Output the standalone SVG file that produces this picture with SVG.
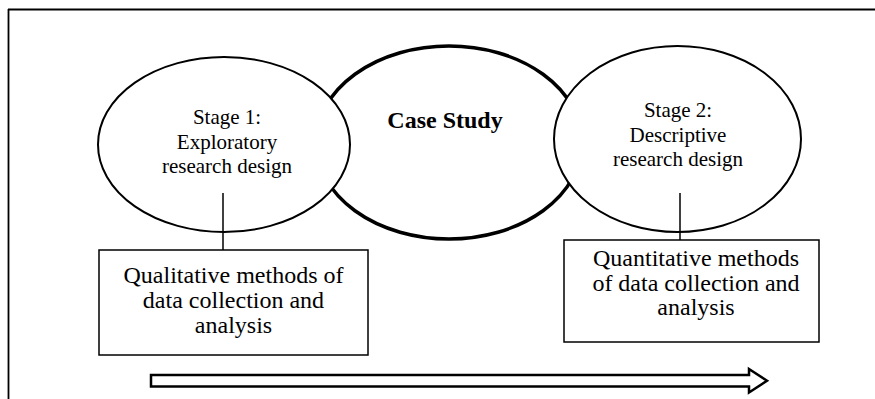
<svg xmlns="http://www.w3.org/2000/svg" width="875" height="399" viewBox="0 0 875 399">
<style>
.t{font-family:"Liberation Serif","Times New Roman",serif;fill:#000;text-anchor:middle}
.s{font-size:21px}
.b{font-size:24px}
.c{font-size:24px;font-weight:bold}
.el{fill:#fff;stroke:#000;stroke-width:2}
.box{fill:#fff;stroke:#000;stroke-width:1.5}
.ln{stroke:#000;stroke-width:1.5;fill:none}
</style>
<rect width="875" height="399" fill="#fff"/>
<g id="frame">
<path d="M8,9.5 H875 M8.5,9 V399" stroke="#000" stroke-width="1.8" fill="none"/>
</g>
<g id="case-study">
<ellipse cx="449" cy="142.5" rx="133" ry="96.5" fill="#fff" stroke="#000" stroke-width="3.5"/>
<text class="t c" x="445" y="128">Case Study</text>
</g>
<g id="stage1">
<ellipse class="el" cx="224" cy="144.5" rx="126" ry="87.5"/>
<text class="t s" x="227" y="124">Stage 1:</text>
<text class="t s" x="227" y="149">Exploratory</text>
<text class="t s" x="227" y="173">research design</text>
</g>
<g id="stage2">
<ellipse class="el" cx="677.5" cy="139" rx="123.5" ry="93"/>
<text class="t s" x="678" y="117">Stage 2:</text>
<text class="t s" x="678" y="142">Descriptive</text>
<text class="t s" x="678" y="166">research design</text>
</g>
<g id="qualitative">
<rect class="box" x="99" y="250" width="269" height="105"/>
<text class="t b" x="233.5" y="283">Qualitative methods of</text>
<text class="t b" x="233.5" y="308">data collection and</text>
<text class="t b" x="233.5" y="333">analysis</text>
</g>
<g id="quantitative">
<rect class="box" x="564" y="240" width="255" height="102"/>
<text class="t b" x="696" y="266">Quantitative methods</text>
<text class="t b" x="696" y="291">of data collection and</text>
<text class="t b" x="696" y="315">analysis</text>
</g>
<g id="connectors">
<line class="ln" x1="223" y1="193" x2="223" y2="250"/>
<line class="ln" x1="680" y1="193" x2="680" y2="240"/>
</g>
<g id="arrow">
<polygon points="151,375 749,375 749,369 767,380.7 749,392.5 749,386.5 151,386.5" fill="#fff" stroke="#000" stroke-width="2.5" stroke-linejoin="miter"/>
</g>
</svg>
